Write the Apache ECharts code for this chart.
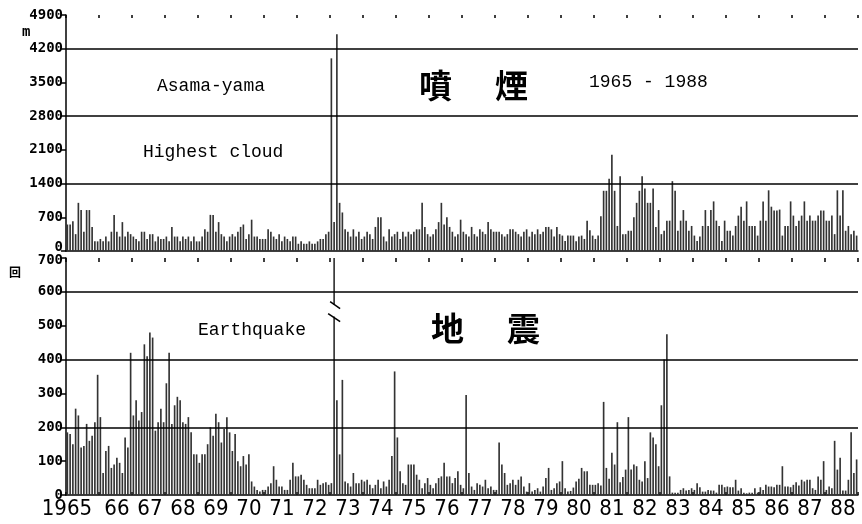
<!DOCTYPE html>
<html><head><meta charset="utf-8">
<script src="https://cdn.jsdelivr.net/npm/echarts@6/dist/echarts.min.js"></script>
<style>html,body{margin:0;padding:0;background:#fff}#c{width:862px;height:524px}</style>
</head><body><div id="c"></div>
<script>
// ---- data ----
const yearLabels = ['1965','66','67','68','69','70','71','72','73','74','75','76','77','78','79','80','81','82','83','84','85','86','87','88'];
const firstYear = 1965;

// Highest cloud (m), monthly, one row per year
const cloudHeightByYear = [
  [550, 550, 620, 350, 1000, 850, 400, 850, 850, 500, 200, 200],
  [250, 200, 300, 200, 400, 750, 400, 300, 600, 300, 400, 350],
  [300, 250, 200, 400, 400, 250, 350, 350, 200, 300, 250, 250],
  [300, 200, 500, 300, 300, 200, 300, 250, 300, 200, 300, 200],
  [200, 300, 450, 400, 750, 750, 400, 600, 350, 300, 200, 300],
  [350, 300, 400, 500, 550, 250, 350, 650, 300, 300, 250, 250],
  [250, 450, 400, 300, 250, 350, 200, 300, 250, 200, 300, 300],
  [150, 200, 150, 150, 200, 150, 150, 200, 250, 250, 350, 400],
  [4000, 600, 4500, 1000, 800, 450, 400, 300, 450, 300, 400, 250],
  [300, 400, 350, 250, 500, 700, 700, 300, 200, 450, 300, 350],
  [400, 250, 400, 300, 400, 350, 400, 450, 450, 1000, 500, 350],
  [300, 350, 450, 600, 1000, 550, 700, 500, 400, 300, 350, 650],
  [400, 350, 300, 500, 350, 300, 450, 400, 350, 600, 450, 400],
  [400, 400, 350, 300, 350, 450, 450, 400, 350, 300, 400, 450],
  [300, 400, 350, 450, 350, 400, 500, 500, 450, 300, 500, 350],
  [320, 210, 320, 320, 320, 200, 300, 320, 250, 630, 430, 320],
  [250, 320, 720, 1250, 1250, 1500, 2000, 1250, 520, 1550, 350, 350],
  [420, 420, 700, 1000, 1250, 1550, 1300, 1000, 1000, 1300, 500, 850],
  [350, 420, 630, 630, 1450, 1250, 420, 630, 850, 630, 420, 520],
  [320, 210, 300, 520, 850, 520, 850, 1030, 630, 520, 210, 630],
  [420, 420, 320, 520, 735, 920, 630, 1030, 520, 520, 520, 320],
  [630, 1030, 630, 1260, 920, 840, 840, 860, 320, 520, 520, 1030],
  [735, 520, 630, 735, 1030, 630, 735, 630, 630, 735, 840, 840],
  [630, 630, 735, 350, 1260, 735, 1260, 420, 520, 350, 420, 320]
];

// Earthquakes (count), monthly, one row per year
const quakeCountByYear = [
  [185, 180, 150, 255, 235, 140, 145, 210, 160, 175, 215, 355],
  [230, 65, 130, 145, 80, 90, 110, 95, 65, 170, 140, 420],
  [235, 280, 220, 245, 445, 410, 480, 465, 190, 215, 255, 215],
  [330, 420, 210, 265, 290, 280, 215, 210, 230, 185, 120, 120],
  [95, 120, 120, 150, 200, 175, 240, 215, 155, 195, 230, 185],
  [130, 180, 100, 85, 115, 90, 120, 40, 25, 15, 10, 15],
  [15, 25, 35, 85, 45, 25, 25, 15, 15, 45, 95, 55],
  [55, 60, 45, 30, 20, 20, 20, 45, 30, 35, 38, 30],
  [35, 1200, 280, 120, 340, 40, 35, 25, 65, 35, 35, 45],
  [40, 45, 30, 20, 30, 45, 20, 40, 25, 45, 115, 365],
  [170, 70, 35, 30, 90, 90, 90, 60, 45, 20, 35, 50],
  [30, 20, 35, 50, 55, 95, 55, 55, 35, 50, 70, 30],
  [20, 295, 65, 25, 15, 35, 30, 25, 45, 20, 25, 15],
  [15, 155, 90, 65, 30, 35, 45, 30, 45, 55, 25, 10],
  [35, 10, 15, 20, 10, 25, 50, 80, 15, 20, 35, 40],
  [100, 20, 10, 12, 22, 40, 48, 80, 70, 70, 30, 30],
  [30, 35, 28, 275, 80, 48, 125, 90, 215, 38, 53, 75],
  [230, 75, 90, 85, 45, 40, 100, 50, 185, 170, 150, 85],
  [265, 400, 475, 55, 7, 7, 7, 15, 20, 13, 15, 20],
  [15, 35, 23, 10, 10, 15, 13, 13, 7, 30, 30, 23],
  [25, 23, 23, 45, 13, 20, 7, 5, 7, 7, 20, 7],
  [23, 15, 30, 25, 25, 23, 30, 30, 85, 25, 25, 23],
  [30, 38, 28, 45, 40, 45, 45, 20, 15, 55, 45, 100],
  [15, 25, 20, 160, 75, 110, 13, 13, 45, 185, 65, 105]
];

const cloudGridValues = [1400, 2800, 4200];
const quakeGridValues = [200, 400, 600];
const brokenMonth = '1973-02';

// ---- build ----
const months = [];
yearLabels.forEach((y, yi) => { for (let m = 1; m <= 12; m++) months.push((firstYear + yi) + '-' + (m < 10 ? '0' + m : m)); });
const cloudData = cloudHeightByYear.flat();
const quakeData = quakeCountByYear.flat();

const labelMonthIndex = (i) => (i === 9) || (i >= 12 && i % 12 === 6);
const bottomCats = months.map((m, i) => i === 9 ? { value: m, textStyle: { align: 'right' } } : m);

const tickFont = { fontFamily: '"DejaVu Sans Mono", monospace', fontWeight: 'bold', fontSize: 14, color: '#000' };
const yearTick = (i) => i % 12 === 0;
const lineStyle = { color: '#000', width: 1.5 };

const chart = echarts.init(document.getElementById('c'), null, { renderer: 'canvas' });
const option = {
  animation: false,
  backgroundColor: '#fff',
  grid: [
    { left: 66, right: 4, top: 15, bottom: 273 },
    { left: 66, right: 4, top: 258, bottom: 29 }
  ],
  xAxis: [
    { type: 'category', gridIndex: 0, data: months, position: 'bottom',
      axisLine: { show: true, lineStyle }, axisTick: { show: false }, axisLabel: { show: false } },
    { type: 'category', gridIndex: 0, data: months, position: 'top',
      axisLine: { show: false }, axisTick: { show: true, inside: true, length: 3, interval: yearTick, lineStyle: { color: '#000', width: 1.5 } }, axisLabel: { show: false } },
    { type: 'category', gridIndex: 1, data: bottomCats, position: 'bottom',
      axisLine: { show: true, lineStyle }, axisTick: { show: true, inside: true, length: 3, interval: yearTick, lineStyle: { color: '#000', width: 1.5 } },
      axisLabel: { show: true, interval: labelMonthIndex, margin: 3,
        formatter: (v, i) => yearLabels[Math.floor(i / 12)],
        fontFamily: '"Liberation Sans Narrow", "DejaVu Sans Condensed", sans-serif', fontSize: 22, color: '#000' } },
    { type: 'category', gridIndex: 1, data: months, position: 'top',
      axisLine: { show: false }, axisTick: { show: true, inside: true, length: 4, interval: yearTick, lineStyle: { color: '#000', width: 1.5 } }, axisLabel: { show: false } }
  ],
  yAxis: [
    { type: 'value', gridIndex: 0, min: 0, max: 4900, interval: 700,
      axisLine: { show: true, lineStyle }, axisTick: { show: true, length: 5, lineStyle },
      splitLine: { show: false },
      axisLabel: Object.assign({ margin: 3,
        formatter: (v) => v === 0 ? '{u|0}' : '{n|' + v + '}',
        rich: { u: Object.assign({ padding: [0, 0, 8, 0] }, tickFont), n: Object.assign({}, tickFont) } }, tickFont) },
    { type: 'value', gridIndex: 1, min: 0, max: 700, interval: 100,
      axisLine: { show: true, lineStyle }, axisTick: { show: true, length: 5, lineStyle },
      splitLine: { show: false },
      axisLabel: Object.assign({ margin: 3,
        formatter: (v) => v === 700 ? '{d|700}' : '{n|' + v + '}',
        rich: { d: Object.assign({ padding: [4, 0, 0, 0] }, tickFont), n: Object.assign({}, tickFont) } }, tickFont) }
  ],
  series: [
    { type: 'bar', xAxisIndex: 0, yAxisIndex: 0, data: cloudData, barWidth: '60%',
      itemStyle: { color: '#333' },
      markLine: { silent: true, symbol: ['none', 'none'], label: { show: false },
        lineStyle: { color: '#000', width: 1.5, type: 'solid' },
        data: cloudGridValues.map(v => ({ yAxis: v })) } },
    { type: 'bar', xAxisIndex: 2, yAxisIndex: 1, data: quakeData, barWidth: '60%',
      itemStyle: { color: '#333' },
      markLine: { silent: true, symbol: ['none', 'none'], label: { show: false },
        lineStyle: { color: '#000', width: 1.5, type: 'solid' },
        data: quakeGridValues.map(v => ({ yAxis: v })) } }
  ],
  graphic: [
    { type: 'text', id: 'm', style: { text: 'm', x: 22, y: 32, font: 'bold 14px "DejaVu Sans Mono"', fill: '#000', verticalAlign: 'middle' } },
    { type: 'text', id: 'kai', style: { text: '回', x: 9, y: 272, font: 'bold 12px "Noto Sans CJK JP"', fill: '#000', verticalAlign: 'middle' } },
    { type: 'text', id: 't1', style: { text: 'Asama-yama', x: 157, y: 86, font: '18px "Liberation Mono"', fill: '#000', verticalAlign: 'middle' } },
    { type: 'text', id: 't2', style: { text: 'Highest cloud', x: 143, y: 152, font: '18px "Liberation Mono"', fill: '#000', verticalAlign: 'middle' } },
    { type: 'text', id: 't3', style: { text: '1965 - 1988', x: 589, y: 82, font: '18px "Liberation Mono"', fill: '#000', verticalAlign: 'middle' } },
    { type: 'text', id: 't4', style: { text: '噴', x: 419, y: 85, font: 'bold 33px "Noto Sans CJK JP"', fill: '#000', verticalAlign: 'middle' } },
    { type: 'text', id: 't5', style: { text: '煙', x: 495, y: 85, font: 'bold 33px "Noto Sans CJK JP"', fill: '#000', verticalAlign: 'middle' } },
    { type: 'text', id: 't6', style: { text: 'Earthquake', x: 198, y: 330, font: '18px "Liberation Mono"', fill: '#000', verticalAlign: 'middle' } },
    { type: 'text', id: 't7', style: { text: '地', x: 431, y: 328, font: 'bold 33px "Noto Sans CJK JP"', fill: '#000', verticalAlign: 'middle' } },
    { type: 'text', id: 't8', style: { text: '震', x: 507, y: 328, font: 'bold 33px "Noto Sans CJK JP"', fill: '#000', verticalAlign: 'middle' } }
  ]
};
chart.setOption(option);

// axis break mark on the off-scale earthquake bar
const pA = chart.convertToPixel({ seriesIndex: 1 }, [brokenMonth, 562]);
const pB = chart.convertToPixel({ seriesIndex: 1 }, [brokenMonth, 527]);
chart.setOption({ graphic: [
  { type: 'rect', id: 'gap', shape: { x: pA[0] - 4, y: pA[1], width: 8, height: pB[1] - pA[1] }, style: { fill: '#fff' }, z: 100 },
  { type: 'line', id: 's1', shape: { x1: pA[0] - 4, y1: pA[1] - 3, x2: pA[0] + 6, y2: pA[1] + 4 }, style: { stroke: '#000', lineWidth: 1.5 }, z: 101 },
  { type: 'line', id: 's2', shape: { x1: pB[0] - 6, y1: pB[1] - 3, x2: pB[0] + 6, y2: pB[1] + 5 }, style: { stroke: '#000', lineWidth: 1.5 }, z: 101 }
] });
</script>
</body></html>
